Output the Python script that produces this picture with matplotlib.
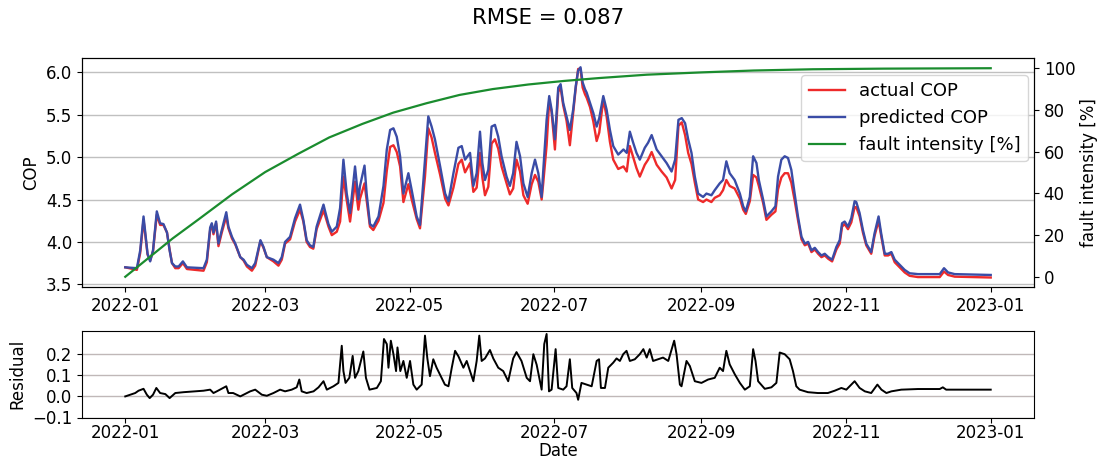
import numpy as np
import pandas as pd
import matplotlib
matplotlib.use("Agg")
import matplotlib.pyplot as plt
import matplotlib.dates as mdates

# ---------------- data ----------------
start_date = "2022-01-01"

cop_days = [0, 4.9, 6.3, 7.7, 9.4, 10.5, 11.7, 13.3, 14.7, 16.1, 17.6, 18.7, 19.7, 21.1, 22.5, 24.3, 26.0,
            33.0, 34.4, 35.8, 36.5, 37.2, 38.3, 39.3, 40.7, 42.6, 43.5, 45.0, 46.4, 48.5, 49.9, 51.3, 53.4,
            54.8, 57.0, 58.3, 59.7, 62.5, 64.6, 66.0, 67.4, 69.5, 71.6, 73.7, 75.1, 76.5, 77.9, 79.3, 80.7,
            83.6, 84.3, 85.7, 87.1, 89.2, 90.6, 92.0, 93.4, 94.8, 96.9, 98.3, 99.0, 100.9, 101.8, 103.2,
            104.6, 106.8, 108.9, 110.3, 111.7, 113.1, 114.5, 115.9, 117.3, 119.4, 120.8, 122.9, 124.3,
            126.4, 127.8, 129.2, 130.6, 132.8, 134.9, 136.3, 138.4, 140.5, 141.9, 143.3, 145.4, 146.8,
            148.2, 149.6, 150.6, 151.7, 153.1, 154.5, 155.9, 157.3, 158.7, 160.8, 162.2, 163.6, 165.0,
            166.5, 167.9, 169.7, 171.4, 172.8, 174.2, 175.6, 176.3, 177.7, 178.8, 179.8, 181.2, 182.6,
            183.6, 184.7, 186.1, 187.5, 188.9, 190.0, 191.0, 192.0, 192.9, 193.9, 194.6, 196.0, 197.4,
            198.8, 199.9, 201.6, 203.0, 204.4, 205.8, 207.9, 210.1, 211.5, 212.8, 214.2, 215.6, 217.0,
            219.1, 220.5, 222.0, 224.1, 226.2, 228.3, 230.4, 231.9, 233.3, 234.7, 236.1, 237.4, 238.8,
            240.2, 241.6, 243.7, 245.1, 247.2, 248.6, 250.7, 252.1, 253.5, 254.9, 257.0, 259.2, 260.6,
            261.7, 263.4, 264.8, 266.2, 267.2, 269.0, 270.4, 272.5, 274.2, 275.3, 276.7, 278.1, 279.5,
            280.9, 282.3, 283.7, 285.2, 286.6, 288.0, 289.4, 290.8, 292.2, 293.6, 295.0, 296.5, 298.1,
            299.9, 301.3, 302.3, 303.4, 304.8, 306.2, 307.6, 308.3, 309.7, 311.1, 312.5, 314.6, 316.0,
            317.7, 318.8, 320.3, 321.7, 323.1, 324.5, 326.6, 328.7, 330.8, 334.3, 343.5, 345.3, 347.0,
            349.8, 365]

predicted_cop = [3.70, 3.69, 3.90, 4.30, 3.86, 3.77, 3.90, 4.36, 4.22, 4.21, 4.11, 3.90, 3.75, 3.71, 3.71, 3.77, 3.70,
                 3.69, 3.79, 4.17, 4.22, 4.11, 4.24, 3.98, 4.14, 4.35, 4.18, 4.06, 3.98, 3.82, 3.79, 3.73, 3.69,
                 3.75, 4.02, 3.94, 3.82, 3.79, 3.75, 3.82, 4.00, 4.06, 4.28, 4.44, 4.26, 4.02, 3.96, 3.94, 4.18,
                 4.44, 4.36, 4.21, 4.12, 4.18, 4.40, 4.97, 4.57, 4.34, 4.89, 4.50, 4.66, 4.90, 4.57, 4.21,
                 4.18, 4.30, 4.66, 5.09, 5.32, 5.34, 5.24, 5.01, 4.57, 4.81, 4.61, 4.30, 4.20,
                 4.97, 5.48, 5.36, 5.21, 4.89, 4.57, 4.48, 4.81, 5.11, 5.13, 4.97, 5.05, 4.66,
                 4.81, 5.30, 4.93, 4.73, 4.85, 5.36, 5.38, 5.24, 5.01, 4.77, 4.66, 4.81, 5.18,
                 5.01, 4.69, 4.53, 4.81, 4.97, 4.81, 4.53, 4.85, 5.44, 5.72, 5.56, 5.21, 5.82,
                 5.86, 5.64, 5.48, 5.32, 5.56, 5.84, 6.02, 6.06, 5.88, 5.80, 5.76, 5.64, 5.52,
                 5.36, 5.46, 5.72, 5.56, 5.32, 5.13, 5.03, 5.09, 5.05, 5.30, 5.17, 5.05, 4.97,
                 5.11, 5.17, 5.26, 5.09, 5.01, 4.93, 4.83, 4.97, 5.44, 5.46, 5.40, 5.21, 5.05,
                 4.77, 4.57, 4.53, 4.57, 4.55, 4.61, 4.69, 4.73, 4.95, 4.81, 4.73, 4.57, 4.42,
                 4.36, 4.53, 5.01, 4.93, 4.73, 4.50, 4.30, 4.36, 4.42, 4.77, 4.97, 5.01, 4.99,
                 4.85, 4.57, 4.30, 4.06, 3.98, 4.00, 3.90, 3.93, 3.88, 3.84, 3.86, 3.82, 3.79,
                 3.94, 4.02, 4.22, 4.24, 4.18, 4.28, 4.48, 4.47, 4.34, 4.14, 3.98, 3.88, 4.10,
                 4.30, 4.10, 3.86, 3.86, 3.88, 3.79, 3.73, 3.67, 3.63, 3.62, 3.62, 3.69, 3.64,
                 3.62, 3.61]

actual_cop = [3.70, 3.67, 3.87, 4.26, 3.85, 3.78, 3.89, 4.32, 4.20, 4.20, 4.11, 3.91, 3.75, 3.69, 3.69, 3.75, 3.68,
              3.66, 3.76, 4.14, 4.20, 4.09, 4.22, 3.95, 4.11, 4.30, 4.16, 4.04, 3.97, 3.82, 3.78, 3.71, 3.66,
              3.72, 4.01, 3.93, 3.82, 3.77, 3.72, 3.79, 3.98, 4.03, 4.24, 4.38, 4.24, 4.00, 3.94, 3.92, 4.15,
              4.37, 4.31, 4.18, 4.08, 4.12, 4.24, 4.77, 4.49, 4.24, 4.71, 4.38, 4.51, 4.69, 4.49, 4.18,
              4.14, 4.25, 4.46, 4.84, 5.12, 5.14, 5.06, 4.89, 4.47, 4.68, 4.50, 4.27, 4.16,
              4.77, 5.34, 5.23, 5.05, 4.79, 4.51, 4.43, 4.64, 4.92, 4.97, 4.82, 4.93, 4.59,
              4.64, 5.05, 4.76, 4.55, 4.65, 5.16, 5.21, 5.10, 4.89, 4.69, 4.56, 4.63, 4.97,
              4.83, 4.55, 4.45, 4.68, 4.79, 4.71, 4.50, 4.70, 5.14, 5.67, 5.53, 5.09, 5.77,
              5.82, 5.61, 5.43, 5.14, 5.52, 5.82, 6.04, 6.04, 5.82, 5.74, 5.70, 5.59, 5.42,
              5.19, 5.29, 5.68, 5.48, 5.18, 4.97, 4.86, 4.89, 4.83, 5.13, 5.00, 4.87, 4.77,
              4.91, 4.97, 5.06, 4.91, 4.83, 4.76, 4.63, 4.73, 5.37, 5.41, 5.26, 5.05, 4.92,
              4.70, 4.50, 4.47, 4.50, 4.47, 4.52, 4.55, 4.61, 4.73, 4.66, 4.63, 4.51, 4.38,
              4.33, 4.48, 4.79, 4.76, 4.66, 4.46, 4.26, 4.32, 4.36, 4.62, 4.76, 4.81, 4.81,
              4.70, 4.49, 4.26, 4.03, 3.96, 3.98, 3.88, 3.91, 3.86, 3.82, 3.84, 3.80, 3.77,
              3.91, 3.98, 4.18, 4.21, 4.15, 4.23, 4.41, 4.41, 4.30, 4.11, 3.96, 3.86, 4.07,
              4.25, 4.07, 3.84, 3.84, 3.86, 3.76, 3.70, 3.64, 3.60, 3.585, 3.585, 3.65, 3.61,
              3.59, 3.58]

resid_days = [0, 4.2, 5.6, 7.7, 9.1, 10.3, 11.7, 13.1, 14.7, 16.9, 18.7, 21.1, 24.6, 33.0, 35.8, 37.2, 38.6,
              42.6, 43.5, 45.5, 48.5, 52.7, 54.8, 57.6, 59.7, 62.5, 65.3, 67.4, 70.2, 72.3, 73.4, 74.4,
              76.5, 79.4, 81.5, 83.6, 85.0, 87.8, 89.9, 91.3, 92.0, 92.9, 94.5, 95.9, 96.9, 98.3, 100.4,
              101.5, 103.0, 106.1, 107.8, 109.1, 110.3, 111.0, 112.0, 113.1, 114.2, 114.8, 116.0, 117.3,
              118.7, 120.1, 121.5, 122.9, 125.0, 126.4, 127.4, 128.5, 129.9, 131.3, 133.4, 134.8, 136.3,
              137.7, 139.1, 140.5, 142.6, 144.0, 145.4, 146.8, 148.2, 149.3, 150.3, 151.7, 153.8, 155.2,
              157.3, 159.4, 161.5, 163.6, 165.0, 167.1, 169.3, 170.7, 172.1, 173.5, 175.6, 176.7, 177.7,
              178.7, 179.8, 181.5, 182.6, 184.7, 186.1, 187.5, 188.5, 190.3, 191.0, 192.4, 194.6, 196.7,
              198.8, 199.8, 200.6, 202.3, 203.7, 205.8, 207.2, 208.6, 210.0, 211.4, 212.8, 214.9, 217.0,
              218.5, 219.9, 221.2, 222.6, 224.7, 226.8, 229.0, 231.5, 232.5, 233.9, 234.6, 236.7, 238.1,
              240.2, 243.0, 245.8, 248.6, 250.7, 252.1, 253.5, 254.9, 257.1, 259.2, 261.3, 263.4, 264.8,
              265.8, 266.9, 269.7, 272.5, 274.6, 276.0, 278.1, 280.2, 281.6, 283.0, 284.4, 287.9, 292.1,
              296.3, 299.2, 302.0, 304.1, 307.6, 309.7, 311.9, 314.6, 317.2, 318.9, 321.0, 323.1, 327.3,
              334.3, 343.5, 344.8, 346.2, 356.1, 365]

residual = [0.0, 0.016, 0.027, 0.036, 0.008, -0.008, 0.008, 0.040, 0.016, 0.011, -0.008, 0.016, 0.020, 0.027, 0.032, 0.016, 0.024,
            0.048, 0.016, 0.016, 0.0, 0.024, 0.032, 0.008, 0.003, 0.016, 0.032, 0.024, 0.032, 0.043, 0.080, 0.024,
            0.016, 0.024, 0.043, 0.072, 0.032, 0.048, 0.064, 0.240, 0.120, 0.064, 0.088, 0.192, 0.088, 0.120, 0.213,
            0.088, 0.032, 0.040, 0.072, 0.272, 0.248, 0.136, 0.264, 0.200, 0.120, 0.232, 0.120, 0.168,
            0.088, 0.168, 0.056, 0.032, 0.056, 0.288, 0.180, 0.096, 0.176, 0.136, 0.088, 0.056, 0.048,
            0.136, 0.216, 0.190, 0.136, 0.168, 0.120, 0.072, 0.168, 0.288, 0.168, 0.180, 0.220, 0.180,
            0.136, 0.120, 0.072, 0.180, 0.210, 0.168, 0.088, 0.072, 0.200, 0.150, 0.032, 0.248, 0.296,
            0.024, 0.032, 0.224, 0.040, 0.032, 0.048, 0.176, 0.040, 0.016, -0.016, 0.064, 0.056, 0.048,
            0.168, 0.176, 0.040, 0.040, 0.136, 0.160, 0.180, 0.168, 0.200, 0.216, 0.168, 0.176, 0.200,
            0.224, 0.184, 0.224, 0.168, 0.176, 0.184, 0.168, 0.264, 0.200, 0.056, 0.048, 0.168, 0.144,
            0.072, 0.064, 0.080, 0.088, 0.136, 0.120, 0.216, 0.152, 0.104, 0.064, 0.032, 0.048, 0.224,
            0.168, 0.072, 0.036, 0.043, 0.064, 0.208, 0.200, 0.176, 0.120, 0.048, 0.032, 0.020, 0.016,
            0.016, 0.027, 0.040, 0.032, 0.072, 0.040, 0.024, 0.016, 0.056, 0.032, 0.016, 0.024, 0.032,
            0.035, 0.035, 0.043, 0.032, 0.032, 0.032]

fault_days = [0, 10, 20, 31, 45, 59, 73, 86, 100, 113, 127, 141, 155, 170, 185, 200, 220, 243, 265, 290, 320, 365]
fault_intensity = [0, 9.2, 18.4, 27.6, 39.5, 50.2, 59.0, 66.8, 73.3, 78.7, 83.2, 87.2, 90.0, 92.2, 93.9, 95.3,
                   96.9, 98.0, 98.9, 99.5, 99.8, 100.0]

rmse_text = "RMSE = 0.087"

# ---------------- plotting ----------------
def to_dates(days):
    return pd.Timestamp(start_date) + pd.to_timedelta(np.asarray(days, dtype=float), unit="D")

FS = 12
plt.rcParams["font.family"] = ["DejaVu Sans"]
plt.rcParams["font.size"] = FS

W, H = 1097, 459
fig = plt.figure(figsize=(W / 100, H / 100), dpi=100)

def px_axes(x0, y0, x1, y1):
    return fig.add_axes([x0 / W, 1 - y1 / H, (x1 - x0) / W, (y1 - y0) / H])

ax = px_axes(82, 58, 1034, 287)
ax_r = px_axes(82, 331, 1034, 417.5)
ax2 = ax.twinx()

cop_dates = to_dates(cop_days)
l1, = ax.plot(cop_dates, actual_cop, color="#ee2a2a", lw=1.7, label="actual COP")
l2, = ax.plot(cop_dates, predicted_cop, color="#3a4ca6", lw=1.7, label="predicted COP")
l3, = ax2.plot(to_dates(fault_days), fault_intensity, color="#1a8c2e", lw=1.6, label="fault intensity [%]")

ax.set_ylim(3.468, 6.169)
ax.set_yticks([3.5, 4.0, 4.5, 5.0, 5.5, 6.0])
ax2.set_ylim(-4.9, 104.9)
ax2.set_yticks([0, 20, 40, 60, 80, 100])
ax.grid(axis="y", color="#c0c0c0", lw=1.0)
ax.set_ylabel("COP", fontsize=FS)
ax2.set_ylabel("fault intensity [%]", fontsize=FS, labelpad=3)

ax.legend(handles=[l1, l2, l3], loc="upper right", bbox_to_anchor=(0.9937, 0.926),
          borderaxespad=0, fontsize=13, framealpha=0.8)

ax_r.plot(to_dates(resid_days), residual, color="black", lw=1.4)
ax_r.set_ylim(-0.1, 0.31)
ax_r.set_yticks([-0.1, 0.0, 0.1, 0.2])
ax_r.grid(axis="y", color="#c0b8b8", lw=1.0)
ax_r.set_ylabel("Residual", fontsize=FS)
ax_r.set_xlabel("Date", fontsize=FS, va="center")
ax_r.xaxis.set_label_coords(0.5, (417.5 - 451.5) / 86.5)

x0 = pd.Timestamp(start_date) - pd.Timedelta(days=18.25)
x1 = pd.Timestamp(start_date) + pd.Timedelta(days=365 + 18.25)
for a in (ax, ax_r):
    a.set_xlim(x0, x1)
    a.xaxis.set_major_locator(mdates.MonthLocator(bymonth=[1, 3, 5, 7, 9, 11]))
    a.xaxis.set_major_formatter(mdates.DateFormatter("%Y-%m"))
    a.tick_params(labelsize=FS)
ax_r.tick_params(axis="x", pad=1.5)
ax2.tick_params(labelsize=FS)

fig.suptitle(rmse_text, fontsize=15.3, y=1 - 18 / H, va="center")

fig.savefig("out.png", dpi=100)
